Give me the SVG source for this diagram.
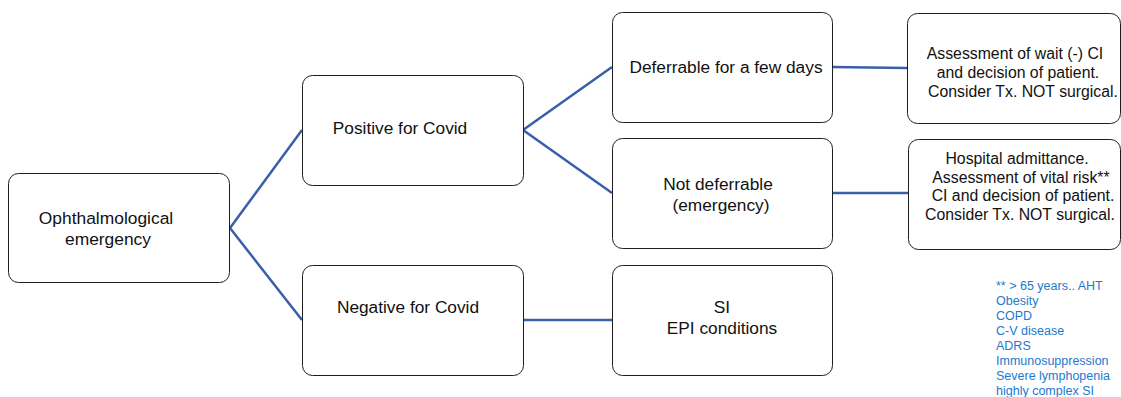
<svg xmlns="http://www.w3.org/2000/svg" width="1121" height="397" viewBox="0 0 1121 397">
<style>
.box{fill:#fff;stroke:#1e1e1e;stroke-width:1}
.t{font-family:"Liberation Sans",Arial,sans-serif;fill:#111;text-anchor:middle}
.t16{font-size:17.4px}
.t17{font-size:17.3px}
.t15{font-size:15.8px}
.conn{stroke:#3a5fa8;stroke-width:2.5;fill:none}
.note{font-family:"Liberation Sans",Arial,sans-serif;font-size:12.5px;fill:#2179d0}
</style>
<rect width="1121" height="397" fill="#fff"/>
<g id="connectors">
<line class="conn" x1="230" y1="228" x2="302" y2="130"/>
<line class="conn" x1="230" y1="228" x2="302" y2="320"/>
<line class="conn" x1="523" y1="130" x2="612" y2="67"/>
<line class="conn" x1="523" y1="130" x2="612" y2="193"/>
<line class="conn" x1="832" y1="67" x2="907" y2="68"/>
<line class="conn" x1="832" y1="193" x2="908" y2="193"/>
<line class="conn" x1="523" y1="320" x2="612" y2="320"/>
</g>
<g id="n-ophth">
<rect class="box" x="8.5" y="173.5" width="221" height="109" rx="10"/>
<text class="t t16" x="106" y="224">Ophthalmological</text>
<text class="t t16" x="108" y="245">emergency</text>
</g>
<g id="n-positive">
<rect class="box" x="302.5" y="75.5" width="221" height="110" rx="10"/>
<text class="t t17" x="400" y="134">Positive for Covid</text>
</g>
<g id="n-negative">
<rect class="box" x="302.5" y="265.5" width="221" height="110" rx="10"/>
<text class="t t17" x="408" y="313">Negative for Covid</text>
</g>
<g id="n-deferrable">
<rect class="box" x="612.5" y="12.5" width="220" height="110" rx="10"/>
<text class="t t17" x="726" y="73">Deferrable for a few days</text>
</g>
<g id="n-notdeferrable">
<rect class="box" x="612.5" y="138.5" width="220" height="110" rx="10"/>
<text class="t t17" x="718" y="190">Not deferrable</text>
<text class="t t17" x="721" y="211">(emergency)</text>
</g>
<g id="n-si">
<rect class="box" x="612.5" y="265.5" width="220" height="110" rx="10"/>
<text class="t t17" x="722" y="313">SI</text>
<text class="t t17" x="722" y="334">EPI conditions</text>
</g>
<g id="n-assess">
<rect class="box" x="907.5" y="13.5" width="213" height="110" rx="10"/>
<text class="t t15" x="1015" y="59">Assessment of wait (-) CI</text>
<text class="t t15" x="1018" y="78">and decision of patient.</text>
<text class="t t15" x="1023" y="97">Consider Tx. NOT surgical.</text>
</g>
<g id="n-hospital">
<rect class="box" x="908.5" y="139.5" width="212" height="110" rx="10"/>
<text class="t t15" x="1017" y="164">Hospital admittance.</text>
<text class="t t15" x="1021" y="182.5">Assessment of vital risk**</text>
<text class="t t15" x="1023" y="201">CI and decision of patient.</text>
<text class="t t15" x="1020" y="219.5">Consider Tx. NOT surgical.</text>
</g>
<g id="footnote">
<text class="note" x="996" y="290">** &gt; 65 years.. AHT</text>
<text class="note" x="996" y="305">Obesity</text>
<text class="note" x="996" y="320">COPD</text>
<text class="note" x="996" y="335">C-V disease</text>
<text class="note" x="996" y="350">ADRS</text>
<text class="note" x="996" y="365">Immunosuppression</text>
<text class="note" x="996" y="380">Severe lymphopenia</text>
<text class="note" x="996" y="395">highly complex SI</text>
</g>
</svg>
